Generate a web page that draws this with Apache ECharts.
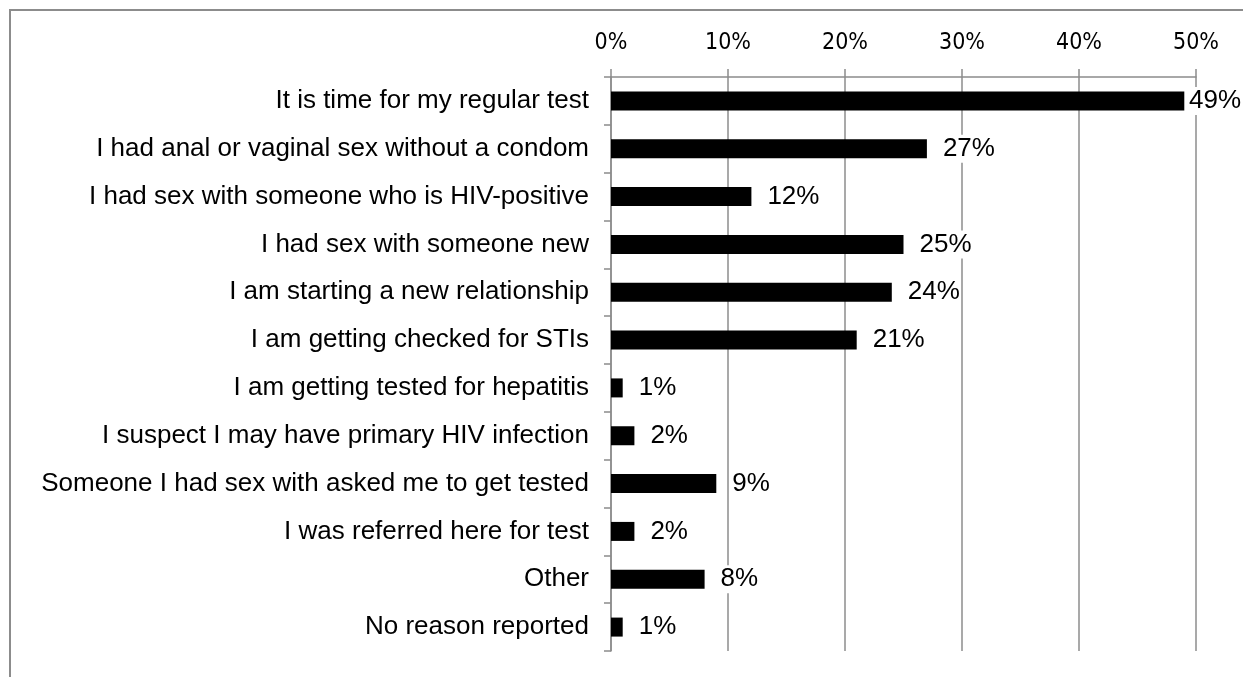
<!DOCTYPE html>
<html>
<head>
<meta charset="utf-8">
<title>Reasons for testing</title>
<script src="https://cdn.jsdelivr.net/npm/echarts@6/dist/echarts.min.js"></script>
<style>
  html, body { margin: 0; padding: 0; background: #ffffff; }
  #chart { width: 1243px; height: 677px; }
</style>
</head>
<body>
<div id="chart"></div>
<script>
// Reasons given for getting tested (percent of respondents)
const categories = [
  'It is time for my regular test',
  'I had anal or vaginal sex without a condom',
  'I had sex with someone who is HIV-positive',
  'I had sex with someone new',
  'I am starting a new relationship',
  'I am getting checked for STIs',
  'I am getting tested for hepatitis',
  'I suspect I may have primary HIV infection',
  'Someone I had sex with asked me to get tested',
  'I was referred here for test',
  'Other',
  'No reason reported'
];
const values = [49, 27, 12, 25, 24, 21, 1, 2, 9, 2, 8, 1];
const xTicks = [0, 10, 20, 30, 40, 50];

const gray = '#8c8c8c';
const chartWidth = 1243;
const chart = echarts.init(document.getElementById('chart'), null, { renderer: 'canvas' });

chart.setOption({
  animation: false,
  backgroundColor: '#ffffff',
  graphic: [{
    type: 'rect',
    shape: { x: 10, y: 10, width: 1400, height: 900 },
    style: { fill: 'none', stroke: gray, lineWidth: 2 },
    z: 0,
    silent: true
  }],
  grid: { left: 611, right: 47, top: 77, bottom: 26, containLabel: false },
  xAxis: {
    type: 'value',
    position: 'top',
    min: xTicks[0],
    max: xTicks[xTicks.length - 1],
    interval: xTicks[1] - xTicks[0],
    axisLine: { show: true, lineStyle: { color: gray, width: 1.5 } },
    axisTick: { show: true, inside: false, length: 8, lineStyle: { color: gray, width: 1.5 } },
    axisLabel: {
      formatter: '{value}%',
      color: '#000',
      fontFamily: '"Liberation Sans Narrow", "DejaVu Sans Condensed", sans-serif',
      fontSize: 23,
      margin: 22
    },
    splitLine: { show: true, lineStyle: { color: gray, width: 1.5 } }
  },
  yAxis: {
    type: 'category',
    inverse: true,
    data: categories,
    axisLine: { show: true, lineStyle: { color: gray, width: 1.5 } },
    axisTick: { show: true, inside: false, length: 7, alignWithLabel: false, lineStyle: { color: gray, width: 1.5 } },
    axisLabel: {
      color: '#000',
      fontFamily: '"Liberation Sans", Arial, sans-serif',
      fontSize: 26,
      margin: 22
    },
    splitLine: { show: false }
  },
  series: [{
    type: 'bar',
    data: values,
    barWidth: 19,
    itemStyle: { color: '#000000' },
    label: {
      show: true,
      position: 'right',
      distance: 15,
      formatter: '{c}%',
      color: '#000',
      fontFamily: '"Liberation Sans", Arial, sans-serif',
      fontSize: 26,
      backgroundColor: '#ffffff',
      padding: [1, 1]
    },
    // keep value labels inside the canvas: pull back any that would run off the right edge
    labelLayout: function (params) {
      const r = params.labelRect;
      const limit = chartWidth - 1;
      if (r.x + r.width > limit) {
        return { dx: limit - (r.x + r.width) };
      }
      return {};
    },
    z: 3
  }]
});
</script>
</body>
</html>
